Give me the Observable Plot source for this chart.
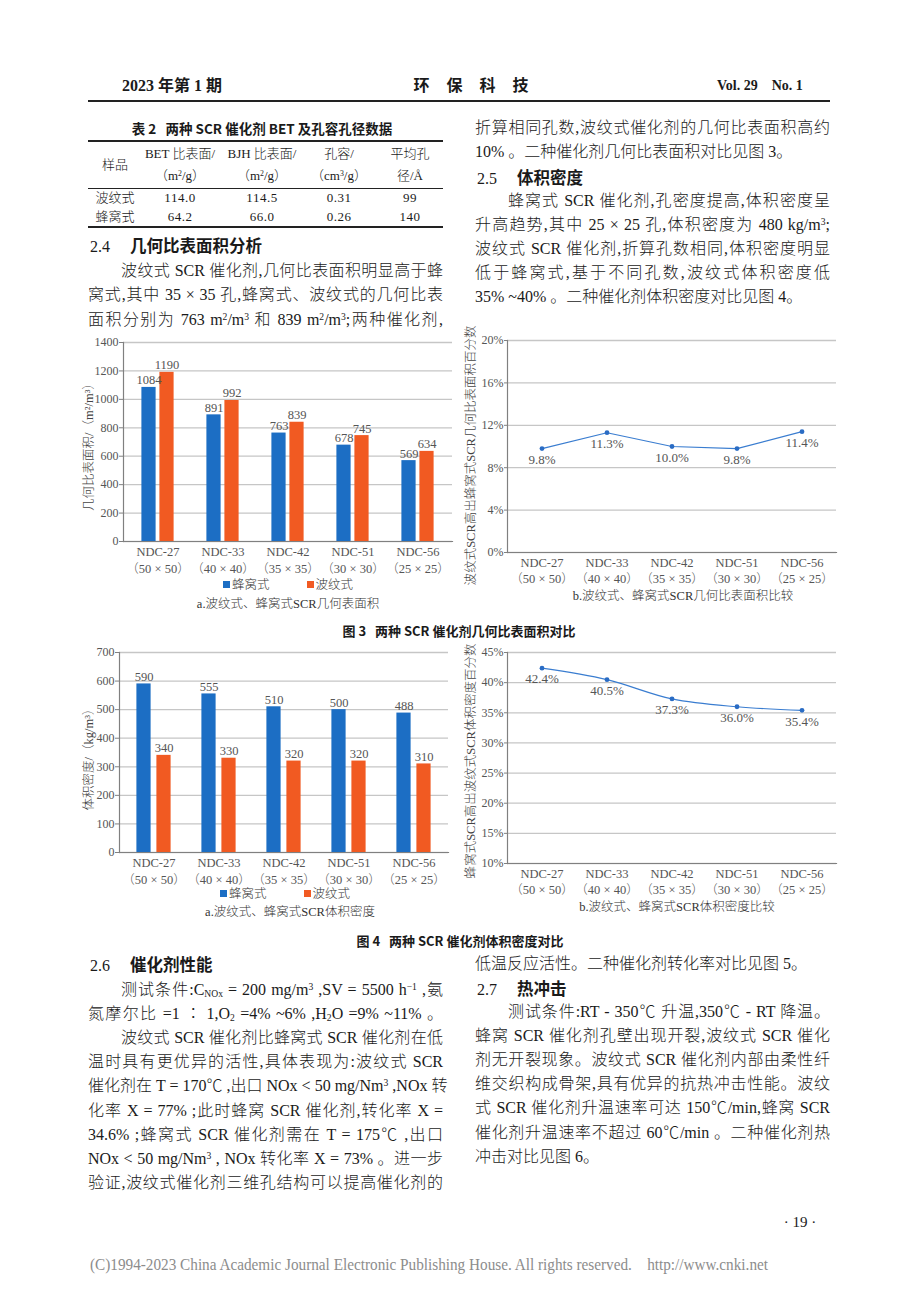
<!DOCTYPE html>
<html><head><meta charset="utf-8">
<script src="https://cdn.jsdelivr.net/npm/d3@7"></script>
<script src="https://cdn.jsdelivr.net/npm/@observablehq/plot@0.6"></script>
<style>
body{margin:0;background:#fff;}
#page{position:relative;width:920px;height:1302px;background:#fff;overflow:hidden;font-family:"Liberation Serif","Noto Sans CJK SC",serif;color:#1a1a1a;font-weight:300;}
.t{position:absolute;white-space:nowrap;font-size:16px;}
.j{text-align:justify;text-align-last:justify;}
.c{text-align:center;}
.hd{font-family:"Noto Sans CJK SC",sans-serif;font-weight:700;}
sup{font-size:0.6em;vertical-align:0.55em;line-height:0;}
sub{font-size:0.6em;vertical-align:-0.25em;line-height:0;}
.chart{position:absolute;}
.hr{position:absolute;background:#222;}
.sq{display:inline-block;width:7px;height:7px;margin-right:2px;vertical-align:1px;}
</style></head><body><div id="page"></div>
<script>
// ---------- data ----------
const cats = ["NDC-27", "NDC-33", "NDC-42", "NDC-51", "NDC-56"];
const holes = ["（50 × 50）", "（40 × 40）", "（35 × 35）", "（30 × 30）", "（25 × 25）"];
const seriesNames = ["蜂窝式", "波纹式"];
const areaHoneycomb = [1084, 891, 763, 678, 569];
const areaCorrugated = [1190, 992, 839, 745, 634];
const areaPct = [9.8, 11.3, 10.0, 9.8, 11.4];
const densityHoneycomb = [590, 555, 510, 500, 488];
const densityCorrugated = [340, 330, 320, 320, 310];
const densityPct = [42.4, 40.5, 37.3, 36.0, 35.4];
const areaTicks = [0, 200, 400, 600, 800, 1000, 1200, 1400];
const areaPctTicks = [0, 4, 8, 12, 16, 20];
const densityTicks = [0, 100, 200, 300, 400, 500, 600, 700];
const densityPctTicks = [10, 15, 20, 25, 30, 35, 40, 45];

const BLUE = "#1c6ec4", ORANGE = "#f15a22", LINE = "#3a7dd0", GRID = "#c6c6c6", AXIS = "#808080", TXT = "#555";
const FONT = "'Liberation Serif','Noto Sans CJK SC',serif";
const page = document.getElementById("page");

function put(html, x, yc, o = {}) {
  const d = document.createElement("div");
  d.className = "t " + (o.cls || "");
  d.innerHTML = html;
  const lh = o.lh || 24;
  d.style.lineHeight = lh + "px";
  d.style.top = (yc - lh / 2) + "px";
  if (o.center) { d.style.left = (x - o.w / 2) + "px"; d.style.width = o.w + "px"; d.style.textAlign = "center"; }
  else { d.style.left = x + "px"; if (o.w) d.style.width = o.w + "px"; }
  if (o.size) d.style.fontSize = o.size + "px";
  if (o.style) Object.assign(d.style, o.style);
  page.appendChild(d);
  return d;
}
function hr(x1, x2, y, h) {
  const d = document.createElement("div");
  d.className = "hr";
  d.style.left = x1 + "px"; d.style.width = (x2 - x1) + "px";
  d.style.top = (y - h / 2) + "px"; d.style.height = h + "px";
  page.appendChild(d);
}

// ---------- header ----------
put("2023 年第 1 期", 122, 86, {size: 16, style: {fontWeight: "bold"}});
put("环保科技", 471, 86, {center: true, w: 200, size: 16, style: {fontWeight: "bold", letterSpacing: "17px", textIndent: "17px"}});
put("Vol. 29&nbsp;&nbsp;&nbsp;&nbsp;No. 1", 717, 86, {size: 14, style: {fontWeight: "bold"}});
hr(88, 830, 101, 1.5);

// ---------- table ----------
put("表 2&nbsp;&nbsp;&nbsp;两种 SCR 催化剂 BET 及孔容孔径数据", 262, 128, {center: true, w: 340, size: 13.5, cls: "hd"});
hr(88, 443, 141, 1.6);
const colX = [115, 180, 262, 339, 410];
put("样品", colX[0], 165, {center: true, w: 60, size: 13});
const head1 = ["BET 比表面/", "BJH 比表面/", "孔容/", "平均孔"];
const head2 = ["（m<sup>2</sup>/g）", "（m<sup>2</sup>/g）", "（cm<sup>3</sup>/g）", "径/Å"];
head1.forEach((h, i) => put(h, colX[i + 1], 154, {center: true, w: 90, size: 13}));
head2.forEach((h, i) => put(h, colX[i + 1], 176, {center: true, w: 90, size: 13}));
hr(88, 443, 188, 0.8);
const rowsT = [["波纹式", "114.0", "114.5", "0.31", "99"], ["蜂窝式", "64.2", "66.0", "0.26", "140"]];
rowsT.forEach((r, k) => r.forEach((v, i) => put(v, colX[i], 198 + k * 19, {center: true, w: 80, size: 13, style: {letterSpacing: i ? "0.5px" : "0"}})));
hr(88, 443, 227, 1.6);

// ---------- text blocks ----------
const LW = 355;
function head(num, title, x, y) {
  put(num + '<span class="hd" style="margin-left:20px;font-size:16.5px">' + title + '</span>', x, y, {size: 16});
}
function para(lines, x, y0, step) {
  lines.forEach((l, i) => {
    const [txt, indent, just] = l;
    put(txt, x, y0 + i * step, {w: LW, cls: just ? "j" : "", style: indent ? {textIndent: "33px"} : {}});
  });
}
head("2.4", "几何比表面积分析", 90, 245);
para([
  ["波纹式 SCR 催化剂,几何比表面积明显高于蜂", 1, 1],
  ["窝式,其中 35 × 35 孔,蜂窝式、波纹式的几何比表", 0, 1],
  ["面积分别为 763 m<sup>2</sup>/m<sup>3</sup> 和 839 m<sup>2</sup>/m<sup>3</sup>;两种催化剂,", 0, 1]
], 88, 271, 24.3);

para([
  ["折算相同孔数,波纹式催化剂的几何比表面积高约", 0, 1],
  ["10% 。二种催化剂几何比表面积对比见图 3。", 0, 0]
], 475, 128, 24.3);
head("2.5", "体积密度", 477, 177);
para([
  ["蜂窝式 SCR 催化剂,孔密度提高,体积密度呈", 1, 1],
  ["升高趋势,其中 25 × 25 孔,体积密度为 480 kg/m<sup>3</sup>;", 0, 1],
  ["波纹式 SCR 催化剂,折算孔数相同,体积密度明显", 0, 1],
  ["低于蜂窝式,基于不同孔数,波纹式体积密度低", 0, 1],
  ["35% ~40% 。二种催化剂体积密度对比见图 4。", 0, 0]
], 475, 201, 24.1);

head("2.6", "催化剂性能", 90, 964);
para([
  ["测试条件:C<sub>NOx</sub> = 200 mg/m<sup>3</sup> ,SV = 5500 h<sup>−1</sup> ,氨", 1, 1],
  ["氮摩尔比 =1 ∶ 1,O<sub>2</sub> =4% ~6% ,H<sub>2</sub>O =9% ~11% 。", 0, 1],
  ["波纹式 SCR 催化剂比蜂窝式 SCR 催化剂在低", 1, 1],
  ["温时具有更优异的活性,具体表现为:波纹式 SCR", 0, 1],
  ["催化剂在 T = 170℃ ,出口 NOx &lt; 50 mg/Nm<sup>3</sup> ,NOx 转", 0, 1],
  ["化率 X = 77% ;此时蜂窝 SCR 催化剂,转化率 X =", 0, 1],
  ["34.6% ;蜂窝式 SCR 催化剂需在 T = 175℃ ,出口", 0, 1],
  ["NOx &lt; 50 mg/Nm<sup>3</sup> , NOx 转化率 X = 73% 。进一步", 0, 1],
  ["验证,波纹式催化剂三维孔结构可以提高催化剂的", 0, 1]
], 88, 990, 24.1);

put("低温反应活性。二种催化剂转化率对比见图 5。", 475, 964, {w: LW});
head("2.7", "热冲击", 477, 988);
para([
  ["测试条件:RT - 350℃ 升温,350℃ - RT 降温。", 1, 1],
  ["蜂窝 SCR 催化剂孔壁出现开裂,波纹式 SCR 催化", 0, 1],
  ["剂无开裂现象。波纹式 SCR 催化剂内部由柔性纤", 0, 1],
  ["维交织构成骨架,具有优异的抗热冲击性能。波纹", 0, 1],
  ["式 SCR 催化剂升温速率可达 150℃/min,蜂窝 SCR", 0, 1],
  ["催化剂升温速率不超过 60℃/min 。二种催化剂热", 0, 1],
  ["冲击对比见图 6。", 0, 0]
], 475, 1012, 24.1);

put("· 19 ·", 800, 1222, {center: true, w: 60, size: 15});
const foot = put("(C)1994-2023 China Academic Journal Electronic Publishing House. All rights reserved.&nbsp;&nbsp;&nbsp;&nbsp;http://www.cnki.net", 90, 1265, {size: 17, style: {color: "#8c8c8c", transformOrigin: "0 50%"}});

// ---------- charts ----------
function mount(svg, left, top) {
  const d = document.createElement("div");
  d.className = "chart"; d.style.left = left + "px"; d.style.top = top + "px";
  d.appendChild(svg); page.appendChild(d);
}
function yTitle(o) {
  return Plot.text([o.ylabel], {frameAnchor: "left", textAnchor: "middle", lineAnchor: "middle", rotate: -90,
    dx: o.ldx, dy: o.ldy || 0, fill: "#444", fontSize: 12.5, fontFamily: FONT});
}

function barChart(o) {
  const data = cats.map((c, i) => ({cat: c, hole: holes[i], a: o.a[i], b: o.b[i]}));
  const band = (o.width - o.ml - o.mr) / cats.length;
  const barW = 15, gap = o.gap;
  const outer = band / 2 - gap / 2 - barW, inner = band / 2 + gap / 2;
  const off = gap / 2 + barW / 2;
  return Plot.plot({
    width: o.width, height: o.height,
    marginLeft: o.ml, marginRight: o.mr, marginTop: o.mt, marginBottom: o.mb,
    style: {background: "transparent", fontFamily: FONT, fontSize: "12px", color: TXT, overflow: "visible"},
    x: {type: "band", domain: cats, padding: 0, axis: null},
    y: {domain: [0, o.ticks[o.ticks.length - 1]]},
    marks: [
      Plot.gridY(o.ticks, {stroke: GRID, strokeOpacity: 1, strokeWidth: 1.3}),
      Plot.barY(data, {x: "cat", y: "a", fill: BLUE, insetLeft: outer, insetRight: inner}),
      Plot.barY(data, {x: "cat", y: "b", fill: ORANGE, insetLeft: inner, insetRight: outer}),
      Plot.text(data, {x: "cat", y: "a", text: d => String(d.a), dx: -off, dy: -3, lineAnchor: "bottom", fill: TXT, fontSize: 12.5}),
      Plot.text(data, {x: "cat", y: "b", text: d => String(d.b), dx: off, dy: -3, lineAnchor: "bottom", fill: TXT, fontSize: 12.5}),
      Plot.frame({anchor: "bottom", stroke: AXIS, strokeWidth: 1.2}),
      Plot.frame({anchor: "left", stroke: AXIS, strokeWidth: 1.2}),
      Plot.axisY(o.ticks, {tickSize: 4, tickPadding: 1, stroke: AXIS, fill: TXT, label: null, tickFormat: d => String(d)}),
      Plot.text(data, {x: "cat", text: d => d.cat + "\n" + d.hole, frameAnchor: "bottom", lineAnchor: "top", dy: o.xdy, lineHeight: 1.36, fill: TXT, fontSize: 12.5}),
      yTitle(o)
    ]
  });
}

function lineChart(o) {
  const data = cats.map((c, i) => ({cat: c, hole: holes[i], v: o.v[i]}));
  return Plot.plot({
    width: o.width, height: o.height,
    marginLeft: o.ml, marginRight: o.mr, marginTop: o.mt, marginBottom: o.mb,
    style: {background: "transparent", fontFamily: FONT, fontSize: "12px", color: TXT, overflow: "visible"},
    x: {type: "band", domain: cats, padding: 0, axis: null},
    y: {domain: [o.ticks[0], o.ticks[o.ticks.length - 1]]},
    marks: [
      Plot.gridY(o.ticks, {stroke: GRID, strokeOpacity: 1, strokeWidth: 1.3}),
      Plot.frame({anchor: "bottom", stroke: AXIS, strokeWidth: 1.2}),
      Plot.frame({anchor: "left", stroke: AXIS, strokeWidth: 1.2}),
      Plot.lineY(data, {x: "cat", y: "v", stroke: LINE, strokeWidth: 1.2, curve: o.curve || "linear"}),
      Plot.dot(data, {x: "cat", y: "v", r: 2.4, fill: "#2a6cc4", stroke: "none"}),
      Plot.text(data, {x: "cat", y: "v", text: d => d.v.toFixed(1) + "%", dy: 11, fill: TXT, fontSize: 13}),
      Plot.axisY(o.ticks, {tickSize: 3, tickPadding: 1, stroke: AXIS, fill: TXT, label: null, tickFormat: d => d + "%"}),
      Plot.text(data, {x: "cat", text: d => d.cat + "\n" + d.hole, frameAnchor: "bottom", lineAnchor: "top", dy: o.xdy, lineHeight: 1.3, fill: TXT, fontSize: 12.5}),
      yTitle(o)
    ]
  });
}

mount(barChart({a: areaHoneycomb, b: areaCorrugated, ticks: areaTicks, gap: 3,
  width: 375, height: 250, ml: 43, mr: 3, mt: 12, mb: 39, xdy: 2, ldx: -35, ldy: 2,
  ylabel: "几何比表面积/（m²/m³）"}), 80, 330);
mount(lineChart({v: areaPct, ticks: areaPctTicks,
  width: 380, height: 258, ml: 47, mr: 4, mt: 10, mb: 36, xdy: 3, ldx: -37, ldy: 9,
  ylabel: "波纹式SCR高出蜂窝式SCR几何比表面积百分数"}), 460, 330);
mount(barChart({a: densityHoneycomb, b: densityCorrugated, ticks: densityTicks, gap: 5,
  width: 372, height: 245, ml: 39, mr: 4, mt: 12, mb: 33, xdy: 2, ldx: -31, ldy: 4,
  ylabel: "体积密度/（kg/m³）"}), 80, 640);
mount(lineChart({v: densityPct, ticks: densityPctTicks, curve: "monotone-x",
  width: 380, height: 258, ml: 47, mr: 4, mt: 12, mb: 35, xdy: 3, ldx: -37, ldy: 3,
  ylabel: "蜂窝式SCR高出波纹式SCR体积密度百分数"}), 460, 640);

// legends & sub-captions
function legend(xc, yc) {
  put('<span class="sq" style="background:' + BLUE + '"></span>' + seriesNames[0] +
      '<span style="display:inline-block;width:37px"></span><span class="sq" style="background:' + ORANGE + '"></span>' + seriesNames[1],
      xc, yc, {center: true, w: 200, size: 12.5, lh: 18, style: {color: "#333"}});
}
legend(288, 585);
put("a.波纹式、蜂窝式SCR几何表面积", 288, 604, {center: true, w: 260, size: 12.5, lh: 18, style: {color: "#333"}});
put("b.波纹式、蜂窝式SCR几何比表面积比较", 683, 596, {center: true, w: 300, size: 12.5, lh: 18, style: {color: "#333"}});
legend(285, 894);
put("a.波纹式、蜂窝式SCR体积密度", 290, 912, {center: true, w: 260, size: 12.5, lh: 18, style: {color: "#333"}});
put("b.波纹式、蜂窝式SCR体积密度比较", 677, 907, {center: true, w: 300, size: 12.5, lh: 18, style: {color: "#333"}});

put("图 3&nbsp;&nbsp;&nbsp;两种 SCR 催化剂几何比表面积对比", 459, 631, {center: true, w: 320, size: 13, lh: 18, cls: "hd"});
put("图 4&nbsp;&nbsp;&nbsp;两种 SCR 催化剂体积密度对比", 460, 941, {center: true, w: 320, size: 13, lh: 18, cls: "hd"});

// footer fit
const fw = foot.getBoundingClientRect().width;
foot.style.transform = "scaleX(" + (678 / fw) + ")";
</script></body></html>
